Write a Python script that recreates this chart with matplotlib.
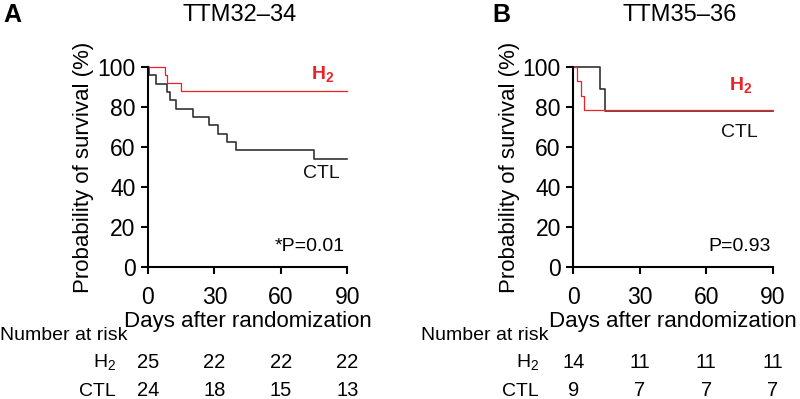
import numpy as np
import matplotlib
matplotlib.use("Agg")
import matplotlib.pyplot as plt

plt.rcParams["font.family"] = ["Liberation Sans", "DejaVu Sans"]
plt.rcParams["mathtext.default"] = "regular"

# Kaplan-Meier steps (days, % survival)
a_h2_t = [0, 7.7, 8.4, 14.8, 90]
a_h2_s = [100, 96.0, 92.0, 88.0, 88.0]
a_ctl_t = [0, 0.6, 3.5, 8.4, 10, 12.7, 20.5, 27.7, 31.8, 35.9, 39.8, 74.8, 90]
a_ctl_s = [100, 95.8, 91.7, 87.5, 83.3, 79.2, 75.0, 70.8, 66.7, 62.5, 58.3, 54.2, 54.2]

b_h2_t = [0, 1.8, 3.3, 5.0, 90]
b_h2_s = [100, 92.9, 85.7, 78.6, 78.6]
b_ctl_t = [0, 12, 14.3, 90]
b_ctl_s = [100, 88.9, 77.8, 77.8]

risk_days = [0, 30, 60, 90]
a_risk_h2 = [25, 22, 22, 22]
a_risk_ctl = [24, 18, 15, 13]
b_risk_h2 = [14, 11, 11, 11]
b_risk_ctl = [9, 7, 7, 7]

RED = "#ec2227"
DARK = "#333333"

fig = plt.figure(figsize=(8, 3.99), dpi=100)


def km_panel(left, letter, letter_x, title, title_x, h2_t, h2_s, ctl_t, ctl_s,
             h2_lab, ctl_lab, ptxt, risk_h2, risk_ctl, nar_x, lab_x):
    ax = fig.add_axes([left, 0.331, 0.249, 0.501])
    ax.step(ctl_t, ctl_s, where="post", color=DARK, lw=1.2, clip_on=False)
    ax.step(h2_t, h2_s, where="post", color=RED, lw=0.9, clip_on=False)
    ax.set_xlim(0, 90)
    ax.set_ylim(0, 100)
    ax.set_xticks([0, 30, 60, 90])
    ax.set_yticks([0, 20, 40, 60, 80, 100])
    for s in ["top", "right"]:
        ax.spines[s].set_visible(False)
    for s in ["left", "bottom"]:
        ax.spines[s].set_linewidth(1.5)
    ax.tick_params(labelsize=16.5, width=1.5, length=5, direction="out")
    ax.tick_params(axis="x", pad=9)
    ax.tick_params(axis="y", pad=4)
    ax.set_xlabel("Days after randomization", fontsize=16, labelpad=1)
    ax.set_ylabel("Probability of survival (%)", fontsize=16, labelpad=2)

    ax.text(h2_lab[0], h2_lab[1], "H$_2$", color=RED, fontsize=14,
            fontweight="bold", ha="center", va="center")
    ax.text(ctl_lab[0], ctl_lab[1], "CTL", color="#111111", fontsize=14,
            ha="center", va="center")
    ax.text(89, 10, ptxt, fontsize=14, ha="right", va="center")

    fig.text(letter_x, 0.962, letter, fontsize=18, fontweight="bold",
             ha="left", va="center")
    fig.text(title_x, 0.962, title, fontsize=17, ha="center", va="center")

    # number-at-risk table
    trans = ax.get_xaxis_transform()
    fig.text(nar_x, 1 - 336 / 399, "Number at risk", fontsize=14,
             ha="left", va="center")
    fig.text(lab_x, 1 - 362 / 399, "H$_2$", fontsize=14, ha="right", va="center")
    fig.text(lab_x, 1 - 391 / 399, "CTL", fontsize=14, ha="right", va="center")
    y_h2 = (1 - 362 / 399 - 0.331) / 0.501
    y_ctl = (1 - 391 / 399 - 0.331) / 0.501
    for d, n1, n2 in zip(risk_days, risk_h2, risk_ctl):
        ax.text(d, y_h2, str(n1), transform=trans, fontsize=14.5,
                ha="center", va="center", clip_on=False)
        ax.text(d, y_ctl, str(n2), transform=trans, fontsize=14.5,
                ha="center", va="center", clip_on=False)
    return ax


km_panel(0.185, "A", 0.004, "TTM32–34", 240 / 800,
         a_h2_t, a_h2_s, a_ctl_t, a_ctl_s,
         (78.7, 96.5), (78.5, 46.6), "*P=0.01",
         a_risk_h2, a_risk_ctl, 0.0, 116 / 800)

km_panel(0.7167, "B", 492 / 800, "TTM35–36", 680 / 800,
         b_h2_t, b_h2_s, b_ctl_t, b_ctl_s,
         (75.4, 91), (75, 67), "P=0.93",
         b_risk_h2, b_risk_ctl, 421 / 800, 539 / 800)

fig.savefig("out.png", dpi=100)
